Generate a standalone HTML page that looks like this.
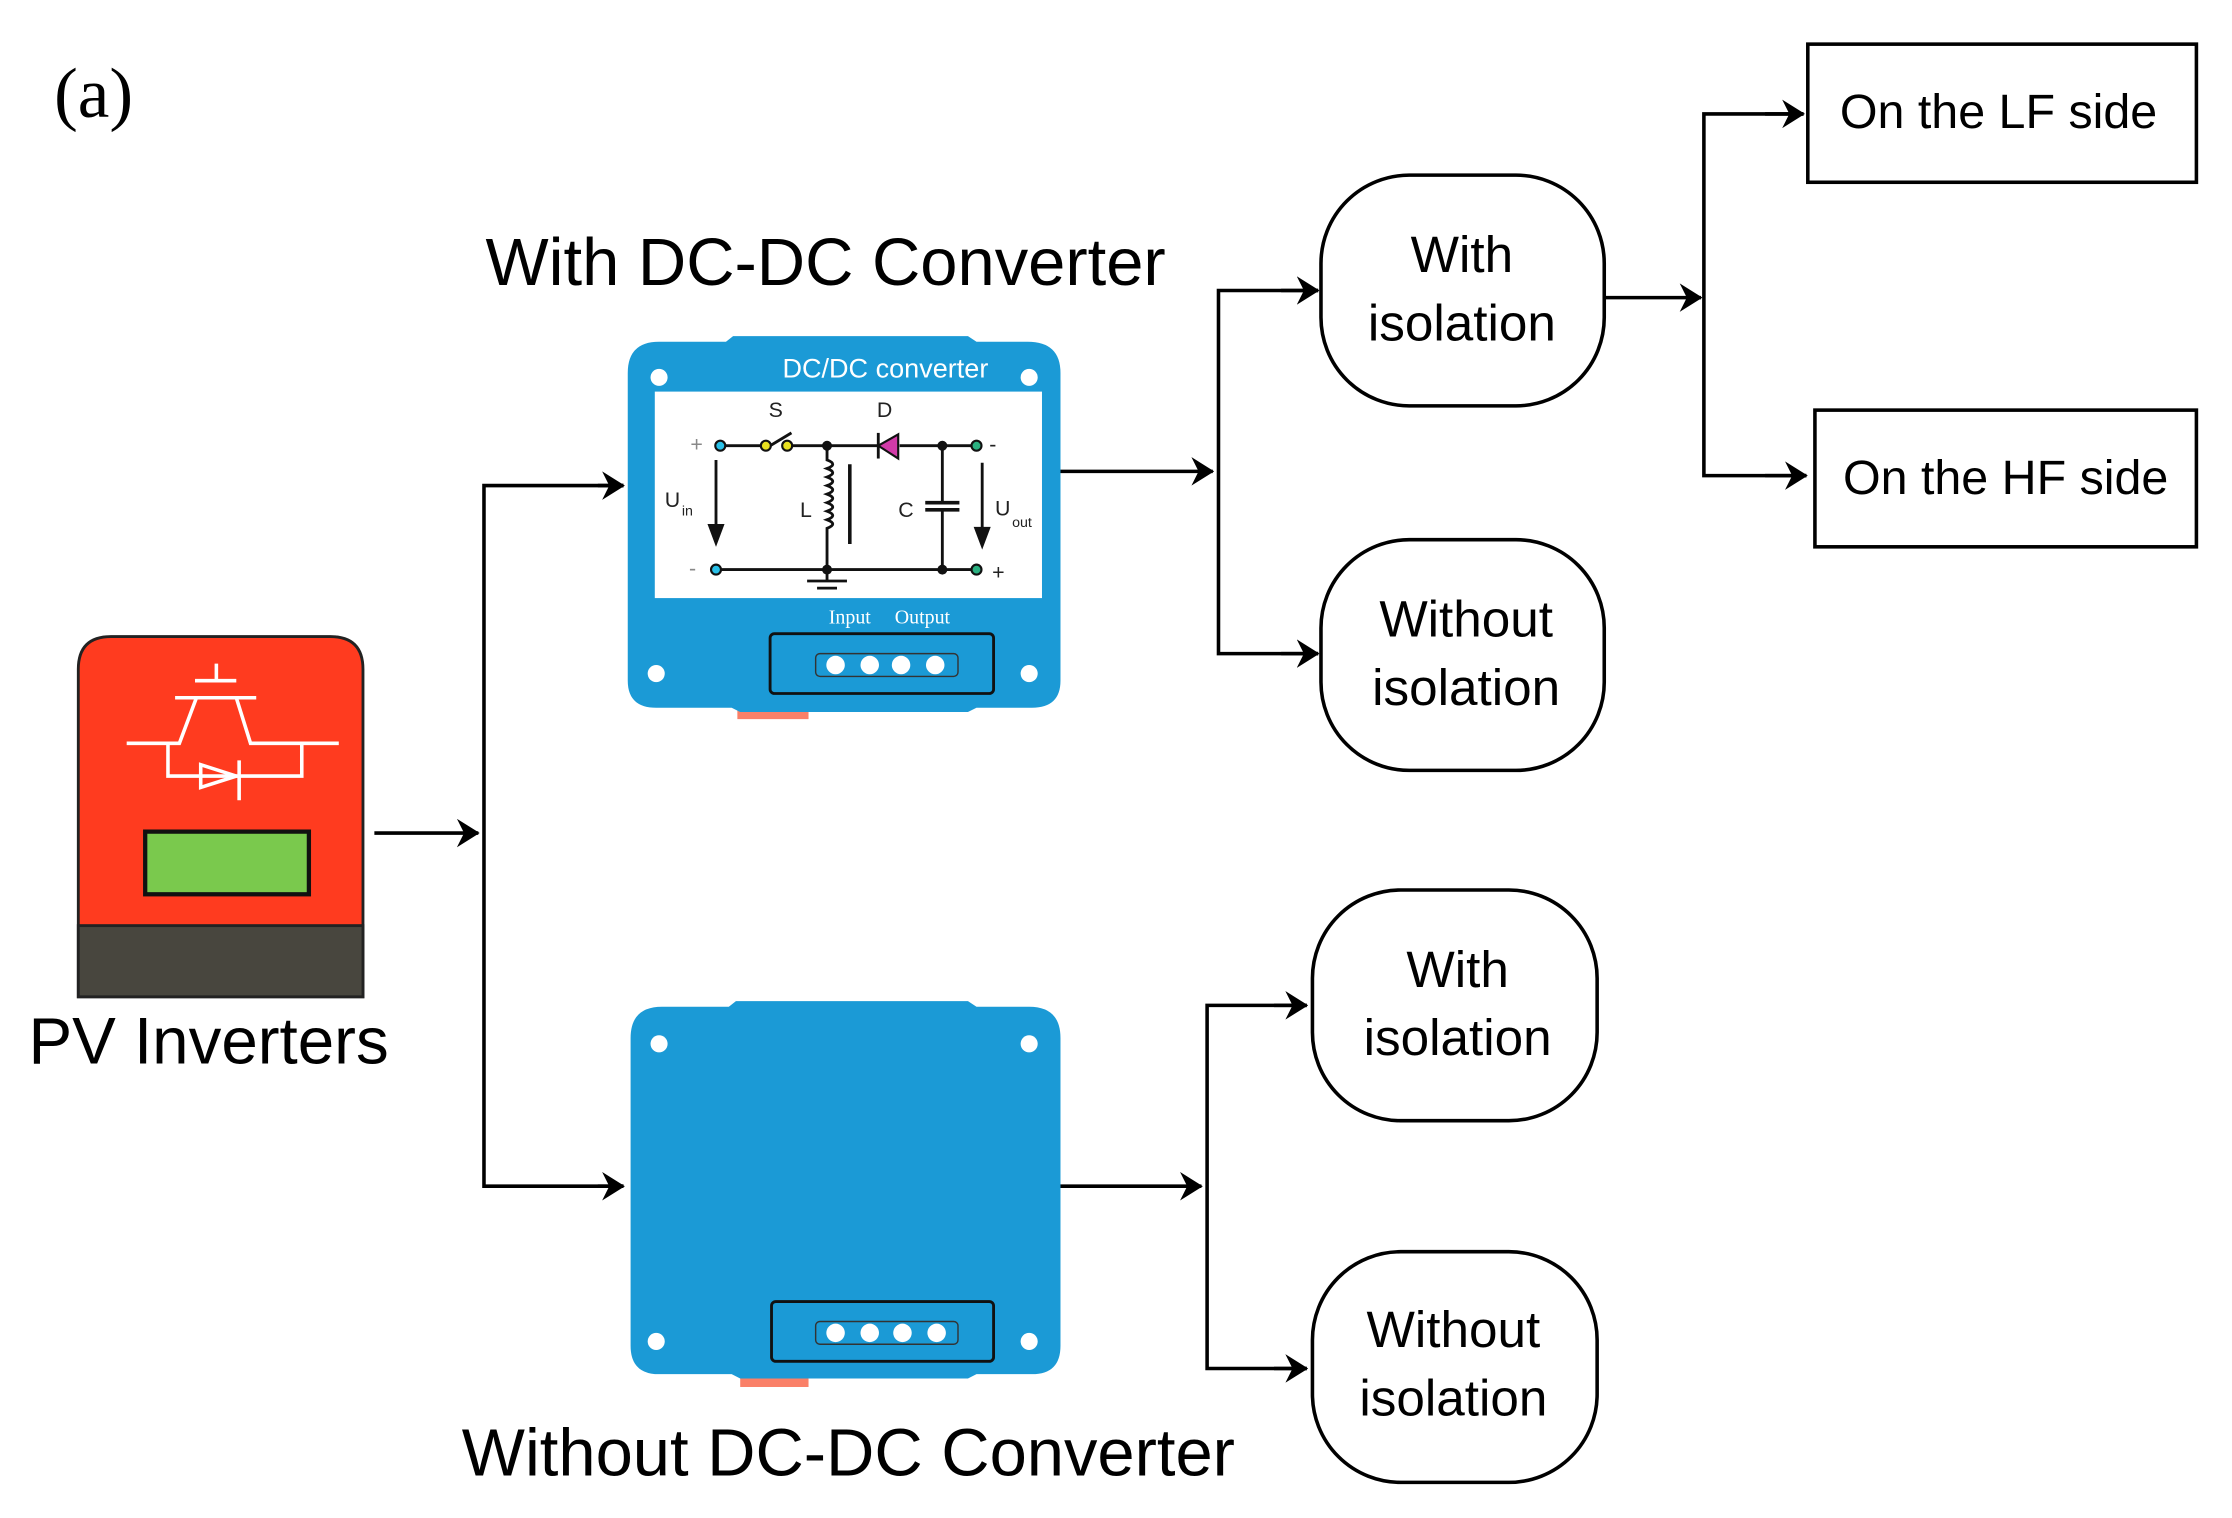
<!DOCTYPE html>
<html><head><meta charset="utf-8"><style>
html,body{margin:0;padding:0;background:#fff;}
svg{display:block;}
text{font-family:"Liberation Sans","DejaVu Sans",sans-serif;}
</style></head><body>
<svg width="2232" height="1518" viewBox="0 0 1568 1066" preserveAspectRatio="none" xmlns="http://www.w3.org/2000/svg">
<defs>
<marker id="ah" markerWidth="16" markerHeight="20" refX="15" refY="10" orient="auto" markerUnits="userSpaceOnUse">
<path d="M0,0 L16,10 L0,20 L5,10 Z" fill="#000"/>
</marker>
</defs>
<rect width="1568" height="1066" fill="#fff"/>
<text x="38" y="82" font-size="50" style="font-family:'Liberation Serif',serif">(a)</text>

<!-- PV inverter -->
<path d="M55,700 V470 Q55,447 78,447 H232 Q255,447 255,470 V700 Z" fill="#ff3b1f" stroke="#222" stroke-width="2"/>
<rect x="55" y="650" width="200" height="50" fill="#48463e" stroke="#222" stroke-width="2"/>
<rect x="102" y="584" width="115" height="44" fill="#7ac94d" stroke="#111" stroke-width="3"/>
<g stroke="#fff" stroke-width="2.5" fill="none">
<path d="M152,466 V478 M137,478 H166 M123,490 H180 M89,522 H126 L138,490 M166,490 L176,522 H238"/>
<path d="M118,522 V545 H212 V522"/>
<path d="M141,537 L166,545 L141,553 Z M168,534 V562"/>
</g>
<text x="20" y="747" font-size="46">PV Inverters</text>

<!-- top converter -->
<text x="580" y="200" font-size="47" text-anchor="middle">With DC-DC Converter</text>
<rect x="518" y="490" width="50" height="15" fill="#fa8068"/>
<path d="M441,262 Q441,240 463,240 H510 L515,236 H680 L686,240 H722 Q745,240 745,262 V478 Q745,497 725,497 H686 L680,500 H520 L514,497 H461 Q441,497 441,478 Z" fill="#1b9ad6"/>
<rect x="460" y="275" width="272" height="145" fill="#fff"/>
<text x="622" y="265" font-size="19" fill="#fff" text-anchor="middle">DC/DC converter</text>
<g fill="#fff"><circle cx="463" cy="265" r="6"/><circle cx="723" cy="265" r="6"/><circle cx="461" cy="473" r="6"/><circle cx="723" cy="473" r="6"/></g>
<g stroke="#111" stroke-width="2" fill="none">
<path d="M506,313 H538 M553,313 H618 M632,313 H686"/>
<path d="M541,313 L556,304"/>
<path d="M503,400 H686"/>
<path d="M581,313 V323 q8,3 0,6 q8,3 0,6 q8,3 0,6 q8,3 0,6 q8,3 0,6 q8,3 0,6 q8,3 0,6 q8,3 0,6 V400"/>
<path d="M597,326 V382" stroke-width="2.5"/>
<path d="M662,313 V353 M662,358 V400"/>
<path d="M650,353 H674 M650,358 H674" stroke-width="2.5"/>
<path d="M581,400 V408 M567,408 H595 M574,413 H588"/>
<path d="M503,323 V372 M690,325 V374"/>
</g>
<path d="M497,368 L503,384 L509,368 Z M684,370 L690,386 L696,370 Z" fill="#111"/>
<path d="M631,305 L631,322 L617,313 Z" fill="#d23aa8" stroke="#111" stroke-width="1.5"/>
<path d="M617,304 V322" stroke="#111" stroke-width="2"/>
<g stroke="#111" stroke-width="1.5">
<circle cx="506" cy="313" r="3.5" fill="#29c0e8"/><circle cx="503" cy="400" r="3.5" fill="#29c0e8"/>
<circle cx="538" cy="313" r="3.5" fill="#e8e020"/><circle cx="553" cy="313" r="3.5" fill="#e8e020"/>
<circle cx="686" cy="313" r="3.5" fill="#2ab080"/><circle cx="686" cy="400" r="3.5" fill="#2ab080"/>
</g>
<g fill="#111"><circle cx="581" cy="313" r="3.5"/><circle cx="581" cy="400" r="3.5"/><circle cx="662" cy="313" r="3.5"/><circle cx="662" cy="400" r="3.5"/></g>
<g font-size="15" fill="#222">
<text x="485" y="317" fill="#888">+</text><text x="484" y="404" fill="#888">-</text>
<text x="540" y="293">S</text><text x="616" y="293">D</text>
<text x="562" y="363">L</text><text x="631" y="363">C</text>
<text x="467" y="356">U</text><text x="479" y="362" font-size="10">in</text>
<text x="699" y="362">U</text><text x="711" y="370" font-size="10">out</text>
<text x="695" y="317">-</text><text x="697" y="407">+</text>
</g>
<text x="597" y="438" font-size="14" fill="#fff" text-anchor="middle" style="font-family:'Liberation Serif',serif">Input</text>
<text x="648" y="438" font-size="14" fill="#fff" text-anchor="middle" style="font-family:'Liberation Serif',serif">Output</text>
<rect x="541" y="445" width="157" height="42" rx="3" fill="#1b9ad6" stroke="#111" stroke-width="2"/>
<rect x="573" y="459" width="100" height="16" rx="3" fill="none" stroke="#333" stroke-width="1"/>
<g fill="#fff"><circle cx="587" cy="467" r="6.5"/><circle cx="611" cy="467" r="6.5"/><circle cx="633" cy="467" r="6.5"/><circle cx="657" cy="467" r="6.5"/></g>

<!-- bottom converter -->
<rect x="520" y="958" width="48" height="16" fill="#fa8068"/>
<path d="M443,729 Q443,707 465,707 H512 L517,703 H680 L686,707 H723 Q745,707 745,729 V945 Q745,965 725,965 H686 L680,968 H520 L514,965 H463 Q443,965 443,945 Z" fill="#1b9ad6"/>
<g fill="#fff"><circle cx="463" cy="733" r="6"/><circle cx="723" cy="733" r="6"/><circle cx="461" cy="942" r="6"/><circle cx="723" cy="942" r="6"/></g>
<rect x="542" y="914" width="156" height="42" rx="3" fill="#1b9ad6" stroke="#111" stroke-width="2"/>
<rect x="573" y="928" width="100" height="16" rx="3" fill="none" stroke="#333" stroke-width="1"/>
<g fill="#fff"><circle cx="587" cy="936" r="6.5"/><circle cx="611" cy="936" r="6.5"/><circle cx="634" cy="936" r="6.5"/><circle cx="658" cy="936" r="6.5"/></g>
<text x="596" y="1036" font-size="47" text-anchor="middle">Without DC-DC Converter</text>

<!-- connectors -->
<g stroke="#000" stroke-width="2.5" fill="none">
<path d="M263,585 H336" marker-end="url(#ah)"/>
<path d="M438,341 H340 V833 H438" />
<path d="M420,341 H438" marker-end="url(#ah)"/>
<path d="M420,833 H438" marker-end="url(#ah)"/>
<path d="M745,331 H852" marker-end="url(#ah)"/>
<path d="M926,204 H856 V459 H926"/>
<path d="M900,204 H926" marker-end="url(#ah)"/>
<path d="M900,459 H926" marker-end="url(#ah)"/>
<path d="M745,833 H844" marker-end="url(#ah)"/>
<path d="M918,706 H848 V961 H918"/>
<path d="M895,706 H918" marker-end="url(#ah)"/>
<path d="M895,961 H918" marker-end="url(#ah)"/>
<path d="M1127,209 H1195" marker-end="url(#ah)"/>
<path d="M1267,80 H1197 V334 H1269"/>
<path d="M1240,80 H1267" marker-end="url(#ah)"/>
<path d="M1240,334 H1269" marker-end="url(#ah)"/>
</g>

<!-- boxes -->
<g fill="#fff" stroke="#000" stroke-width="2.5">
<rect x="928" y="123" width="199" height="162" rx="62"/>
<rect x="928" y="379" width="199" height="162" rx="62"/>
<rect x="922" y="625" width="200" height="162" rx="62"/>
<rect x="922" y="879" width="200" height="162" rx="62"/>
<rect x="1270" y="31" width="273" height="97"/>
<rect x="1275" y="288" width="268" height="96"/>
</g>
<g font-size="36" text-anchor="middle">
<text x="1027" y="191">With</text><text x="1027" y="239">isolation</text>
<text x="1030" y="447">Without</text><text x="1030" y="495">isolation</text>
<text x="1024" y="693">With</text><text x="1024" y="741">isolation</text>
<text x="1021" y="946">Without</text><text x="1021" y="994">isolation</text>
<text x="1404" y="90" font-size="34">On the LF side</text>
<text x="1409" y="347" font-size="34">On the HF side</text>
</g>
</svg>
</body></html>
